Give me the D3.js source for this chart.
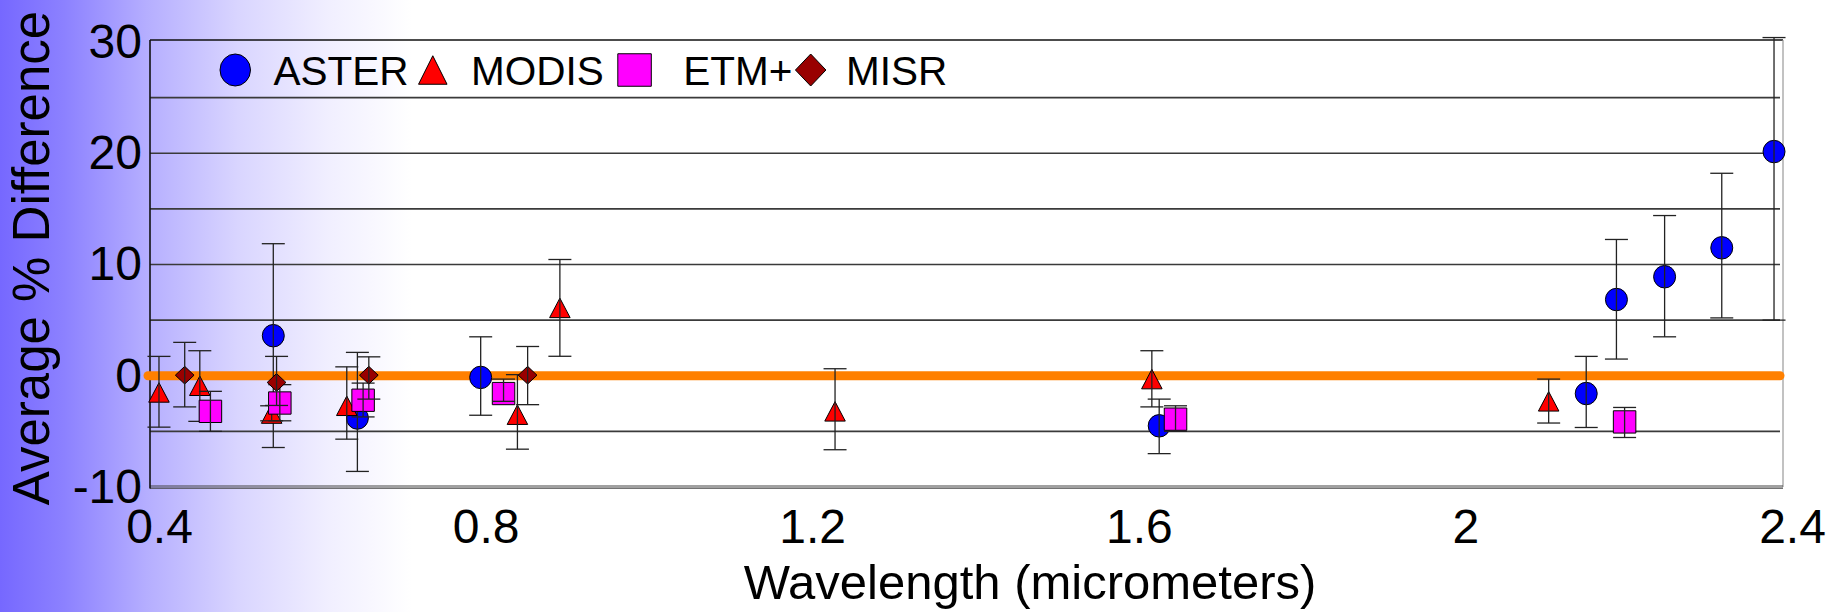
<!DOCTYPE html>
<html>
<head>
<meta charset="utf-8">
<script src="https://cdn.jsdelivr.net/npm/d3@7"></script>
<style>
  html, body { margin: 0; padding: 0; background: #fff; }
  text { font-family: "Liberation Sans", Arial, sans-serif; fill: #000; }
</style>
</head>
<body>
<div id="chart"></div>
<script>
// ---- data ----
const seriesNames = ["ASTER", "MODIS", "ETM+", "MISR"];

const asterWl  = [0.551, 0.654, 0.805, 1.636, 2.159, 2.196, 2.255, 2.325, 2.389];
const asterVal = [3.6, -3.8, -0.15, -4.5, -1.6, 6.85, 8.9, 11.5, 20.15];
const asterLo  = [-6.45, -8.6, -3.55, -7.0, -4.65, 1.5, 3.5, 5.2, 5.0];
const asterHi  = [11.87, 2.1, 3.5, -2.1, 1.74, 12.25, 14.4, 18.2, 30.4];

const modisWl  = [0.411, 0.461, 0.549, 0.641, 0.850, 0.902, 1.239, 1.627, 2.113];
const modisVal = [-1.5, -0.9, -3.4, -2.7, -3.5, 6.1, -3.2, -0.3, -2.3];
const modisLo  = [-4.62, -4.1, -4.05, -5.7, -6.6, 1.75, -6.65, -2.8, -4.25];
const modisHi  = [1.74, 2.25, -2.7, 0.8, 0.1, 10.45, 0.63, 2.25, -0.3];

const etmWl  = [0.474, 0.559, 0.661, 0.833, 1.656, 2.206];
const etmVal = [-3.2, -2.45, -2.2, -1.6, -3.9, -4.15];
const etmLo  = [-5.0, -4.05, -3.7, -2.3, -5.0, -5.55];
const etmHi  = [-1.4, -0.8, -0.66, -0.3, -2.7, -2.85];

const misrWl  = [0.4425, 0.555, 0.668, 0.8625];
const misrVal = [0.05, -0.6, 0.05, 0.05];
const misrLo  = [-2.8, -2.67, -2.1, -2.6];
const misrHi  = [3.0, 1.74, 1.7, 2.63];

const xTicks = [0.4, 0.8, 1.2, 1.6, 2, 2.4];
const yTicks = [-10, 0, 10, 20, 30];
const gridValues = [-5, 0, 5, 10, 15, 20, 25];
const referenceValue = 0;

// ---- layout ----
const W = 1831, H = 612;
const margin = { top: 42, right: 48, bottom: 125, left: 150 };
const width = W - margin.left - margin.right;
const height = H - margin.top - margin.bottom;

const svg = d3.select("#chart").append("svg")
    .attr("width", W)
    .attr("height", H);

// background gradient
const grad = svg.append("defs").append("linearGradient")
    .attr("id", "bg")
    .attr("gradientUnits", "userSpaceOnUse")
    .attr("x1", 0).attr("x2", W).attr("y1", 0).attr("y2", 0);
[[0, "#7668ff"], [0.035, "#8c81ff"], [0.08, "#b5aeff"], [0.13, "#d9d5ff"], [0.18, "#f1efff"], [0.225, "#ffffff"]]
    .forEach(s => grad.append("stop").attr("offset", s[0]).attr("stop-color", s[1]));
svg.append("rect").attr("width", W).attr("height", H).attr("fill", "url(#bg)");

const g = svg.append("g").attr("transform", `translate(${margin.left},${margin.top})`);

const x = d3.scaleLinear().domain([0.4, 2.4]).range([0, width]);
const y = d3.scaleLinear().domain([-10, 30]).range([height, 0]);

// gridlines
g.append("g").selectAll("line")
    .data(gridValues)
    .enter().append("line")
    .attr("x1", 0).attr("x2", width - 3)
    .attr("y1", d => y(d)).attr("y2", d => y(d))
    .attr("stroke", "#3a3a3a")
    .attr("stroke-width", 1.6);

// frame
g.append("line").attr("x1", 0).attr("x2", width).attr("y1", -2).attr("y2", -2)
    .attr("stroke", "#111").attr("stroke-width", 1.6);
g.append("line").attr("x1", width).attr("x2", width).attr("y1", -2).attr("y2", height)
    .attr("stroke", "#999").attr("stroke-width", 1.2);
g.append("line").attr("x1", 0).attr("x2", width).attr("y1", height - 1).attr("y2", height - 1)
    .attr("stroke", "#444").attr("stroke-width", 1.2);
g.append("line").attr("x1", 0).attr("x2", width).attr("y1", height + 1.2).attr("y2", height + 1.2)
    .attr("stroke", "#444").attr("stroke-width", 1.2);
g.append("line").attr("x1", 0).attr("x2", 0).attr("y1", -2).attr("y2", height + 1.5)
    .attr("stroke", "#111").attr("stroke-width", 1.6);

// x axis
const xAxis = g.append("g")
    .attr("transform", `translate(0,${height})`)
    .call(d3.axisBottom(x).tickValues(xTicks).tickSize(0).tickPadding(22).tickFormat(d => String(d)));
xAxis.select(".domain").remove();
xAxis.selectAll("text")
    .attr("dx", 9)
    .style("font-size", "48px")
    .style("font-family", "'Liberation Sans', Arial, sans-serif")
    .attr("fill", "#000");

// y axis (plain hyphen minus, as in the original)
const yAxis = g.append("g")
    .call(d3.axisLeft(y).tickValues(yTicks).tickSize(0).tickPadding(8).tickFormat(d => String(d)));
yAxis.select(".domain").remove();
yAxis.selectAll("text")
    .style("font-size", "48px")
    .style("font-family", "'Liberation Sans', Arial, sans-serif")
    .attr("fill", "#000");

// axis titles
svg.append("text")
    .attr("x", 1030).attr("y", 599)
    .attr("text-anchor", "middle")
    .style("font-size", "49px")
    .text("Wavelength (micrometers)");

svg.append("text")
    .attr("transform", "translate(49,258) rotate(-90)")
    .attr("text-anchor", "middle")
    .style("font-size", "51px")
    .text("Average % Difference");

// zero reference line
g.append("line")
    .attr("x1", -2).attr("x2", width - 3)
    .attr("y1", y(referenceValue)).attr("y2", y(referenceValue))
    .attr("stroke", "#ff8000")
    .attr("stroke-width", 9)
    .attr("stroke-linecap", "round");

// marker shapes, centred on their bounding box
function shapePath(type, w, h) {
    const a = w / 2, b = h / 2;
    if (type === "circle") return `M${-a},0A${a},${b} 0 1,0 ${a},0A${a},${b} 0 1,0 ${-a},0Z`;
    if (type === "triangle") return `M0,${-b}L${a},${b}L${-a},${b}Z`;
    if (type === "square") return `M${-a},${-b}H${a}V${b}H${-a}Z`;
    return `M0,${-b}L${a},0L0,${b}L${-a},0Z`; // diamond
}

const series = [
    { name: seriesNames[0], wl: asterWl, val: asterVal, lo: asterLo, hi: asterHi, shape: "circle",   fill: "#0000ff", w: 22, h: 22.5, lw: 30.5, lh: 32, tgap: 23, gap: 10 },
    { name: seriesNames[1], wl: modisWl, val: modisVal, lo: modisLo, hi: modisHi, shape: "triangle", fill: "#ff0000", w: 20.5, h: 19.5, lw: 28.5, lh: 28.5, tgap: 24, gap: 14 },
    { name: seriesNames[2], wl: etmWl,   val: etmVal,   lo: etmLo,   hi: etmHi,   shape: "square",   fill: "#ff00ff", w: 22.5, h: 22.3, lw: 33.5, lh: 32.5, tgap: 32, gap: 3 },
    { name: seriesNames[3], wl: misrWl,  val: misrVal,  lo: misrLo,  hi: misrHi,  shape: "diamond",  fill: "#990000", w: 18.7, h: 17.7, lw: 30.5, lh: 32, tgap: 20, gap: 0 }
];

const capHalf = 11.5;

series.forEach(s => {
    const pts = s.wl.map((wl, i) => ({ wl: wl, v: s.val[i], lo: s.lo[i], hi: s.hi[i] }));
    const sg = g.append("g").attr("class", "series");

    // markers
    sg.selectAll("path.marker")
        .data(pts)
        .enter().append("path")
        .attr("class", "marker")
        .attr("transform", d => `translate(${x(d.wl)},${y(d.v)})`)
        .attr("d", shapePath(s.shape, s.w, s.h))
        .attr("fill", s.fill)
        .attr("stroke", "#000")
        .attr("stroke-width", 1);

    // error bars on top of the markers
    const eb = sg.selectAll("g.err")
        .data(pts)
        .enter().append("g")
        .attr("class", "err")
        .attr("stroke", "#222")
        .attr("stroke-width", 1.3);
    eb.append("line")
        .attr("x1", d => x(d.wl)).attr("x2", d => x(d.wl))
        .attr("y1", d => y(d.lo)).attr("y2", d => y(d.hi));
    eb.append("line")
        .attr("x1", d => x(d.wl) - capHalf).attr("x2", d => x(d.wl) + capHalf)
        .attr("y1", d => y(d.lo)).attr("y2", d => y(d.lo));
    eb.append("line")
        .attr("x1", d => x(d.wl) - capHalf).attr("x2", d => x(d.wl) + capHalf)
        .attr("y1", d => y(d.hi)).attr("y2", d => y(d.hi));
});

// legend (flow layout along the top of the plot)
const legend = svg.append("g").attr("transform", "translate(220,70)");
let cursor = 0;
series.forEach(s => {
    legend.append("path")
        .attr("transform", `translate(${cursor + s.lw / 2},0)`)
        .attr("d", shapePath(s.shape, s.lw, s.lh))
        .attr("fill", s.fill)
        .attr("stroke", "#000")
        .attr("stroke-width", 1);
    const t = legend.append("text")
        .attr("x", cursor + s.lw + s.tgap)
        .attr("y", 14.5)
        .style("font-size", "40.5px")
        .text(s.name);
    cursor = cursor + s.lw + s.tgap + t.node().getComputedTextLength() + s.gap;
});
</script>
</body>
</html>
